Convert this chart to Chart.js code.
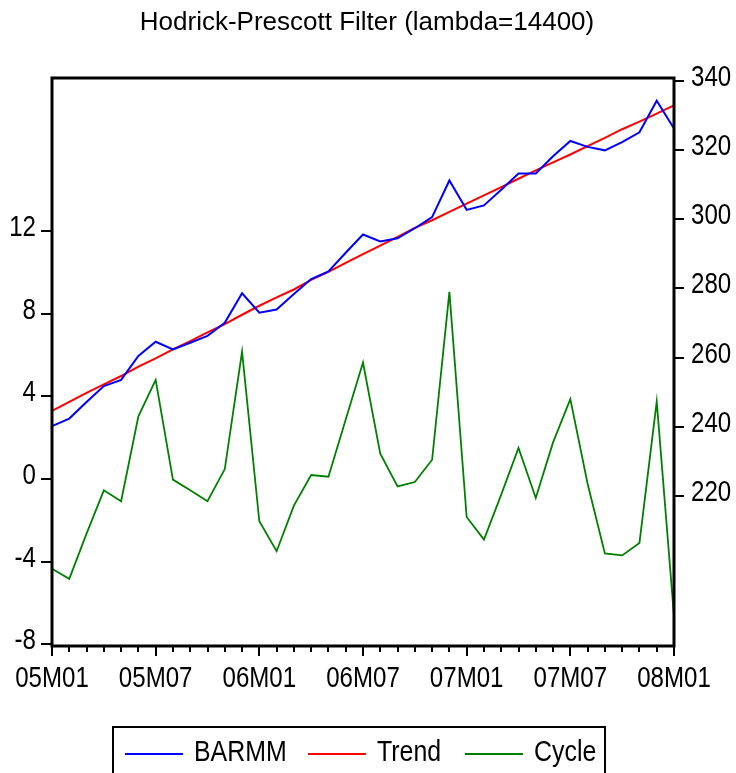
<!DOCTYPE html>
<html>
<head>
<meta charset="utf-8">
<script src="https://cdn.jsdelivr.net/npm/chart.js@4/dist/chart.umd.min.js"></script>
<style>
  html, body { margin: 0; padding: 0; background: #fff; }
</style>
</head>
<body>
<canvas id="hp" width="736" height="773"></canvas>
<script>
// monthly periods 2005M01 .. 2008M01
const periods = [
    '05M01', '05M02', '05M03', '05M04', '05M05', '05M06', '05M07', '05M08', '05M09', '05M10', '05M11', '05M12',
    '06M01', '06M02', '06M03', '06M04', '06M05', '06M06', '06M07', '06M08', '06M09', '06M10', '06M11', '06M12',
    '07M01', '07M02', '07M03', '07M04', '07M05', '07M06', '07M07', '07M08', '07M09', '07M10', '07M11', '07M12',
    '08M01'
];

// right axis
const barmm = [
    240.2, 242.4, 247.2, 251.8, 253.6, 260.5, 264.6, 262.4, 264.3, 266.3, 270.1, 278.6,
    273.0, 273.9, 278.4, 282.7, 284.9, 290.3, 295.6, 293.6, 294.5, 297.4, 300.6, 311.2,
    302.7, 304.0, 308.5, 313.2, 313.2, 318.2, 322.6, 320.9, 319.9, 322.3, 325.1, 334.2,
    326.2
];
const trend = [
    244.6, 247.2, 249.8, 252.3, 254.7, 257.4, 259.8, 262.4, 264.8, 267.3, 269.7, 272.4,
    275.0, 277.4, 279.7, 282.5, 284.8, 287.4, 289.9, 292.4, 294.9, 297.5, 299.7, 302.1,
    304.5, 306.9, 309.3, 311.7, 314.1, 316.4, 318.7, 321.1, 323.5, 326.0, 328.2, 330.5,
    332.9
];

// left axis
const cycle = [
    -4.35, -4.84, -2.65, -0.55, -1.08, 3.03, 4.80, -0.03, -0.55, -1.08, 0.48, 6.17,
    -2.05, -3.50, -1.29, 0.19, 0.11, 2.88, 5.64, 1.22, -0.36, -0.15, 0.93, 9.06,
    -1.84, -2.94, -0.76, 1.50, -0.92, 1.77, 3.87, -0.23, -3.61, -3.70, -3.10, 3.75,
    -6.65
];

const cycleTicks = [-8, -4, 0, 4, 8, 12];
const levelTicks = [220, 240, 260, 280, 300, 320, 340];

const FONT = "'Liberation Sans', Arial, sans-serif";
const SQUEEZE = 0.83; // EViews draws its axis text narrow

function narrowText(ctx, text, x, y, align) {
    ctx.save();
    ctx.translate(x, y);
    ctx.scale(SQUEEZE, 1);
    ctx.textAlign = align;
    ctx.fillText(text, 0, 0);
    ctx.restore();
}

// frame, tick marks, tick labels, title and boxed legend
const evFrame = {
    id: 'evFrame',
    afterDraw(chart) {
        const ctx = chart.ctx;
        const a = chart.chartArea;
        const yl = chart.scales.y;
        const yr = chart.scales.y2;
        const x = chart.scales.x;

        ctx.save();
        ctx.strokeStyle = '#000';
        ctx.fillStyle = '#000';
        ctx.lineWidth = 3;
        ctx.strokeRect(a.left, a.top, a.right - a.left, a.bottom - a.top);

        ctx.lineWidth = 2;
        ctx.beginPath();
        cycleTicks.forEach(v => {
            const py = Math.round(yl.getPixelForValue(v));
            ctx.moveTo(a.left - 11, py);
            ctx.lineTo(a.left, py);
        });
        levelTicks.forEach(v => {
            const py = Math.round(yr.getPixelForValue(v));
            ctx.moveTo(a.right, py);
            ctx.lineTo(a.right + 10, py);
        });
        periods.forEach((p, i) => {
            const px = Math.round(x.getPixelForValue(i));
            ctx.moveTo(px, a.bottom);
            ctx.lineTo(px, a.bottom + (i % 6 === 0 ? 10 : 6));
        });
        ctx.stroke();

        ctx.font = '29px ' + FONT;
        ctx.textBaseline = 'middle';
        cycleTicks.forEach(v => {
            narrowText(ctx, String(v), 36, yl.getPixelForValue(v) - 3, 'right');
        });
        levelTicks.forEach(v => {
            narrowText(ctx, String(v), 691, yr.getPixelForValue(v) - 3, 'left');
        });
        periods.forEach((p, i) => {
            if (i % 6 === 0) narrowText(ctx, p, x.getPixelForValue(i), 679, 'center');
        });

        // title
        ctx.font = '26px ' + FONT;
        ctx.textAlign = 'center';
        ctx.fillText('Hodrick-Prescott Filter (lambda=14400)', 367, 23);

        // legend box
        ctx.lineWidth = 2;
        ctx.strokeRect(113, 727, 492, 60);
        ctx.font = '30px ' + FONT;
        const slots = [125, 308, 465];
        chart.data.datasets.forEach((ds, i) => {
            const lx = slots[i];
            ctx.strokeStyle = ds.borderColor;
            ctx.lineWidth = 2;
            ctx.beginPath();
            ctx.moveTo(lx, 754);
            ctx.lineTo(lx + 58, 754);
            ctx.stroke();
            narrowText(ctx, ds.label, lx + 69, 753, 'left');
        });
        ctx.restore();
    }
};

new Chart(document.getElementById('hp'), {
    type: 'line',
    data: {
        labels: periods,
        datasets: [
            { label: 'BARMM', data: barmm, yAxisID: 'y2', borderColor: '#0000ff', borderWidth: 2 },
            { label: 'Trend', data: trend, yAxisID: 'y2', borderColor: '#ff0000', borderWidth: 2 },
            { label: 'Cycle', data: cycle, yAxisID: 'y', borderColor: '#008000', borderWidth: 1.8 }
        ]
    },
    options: {
        responsive: false,
        devicePixelRatio: 1,
        animation: false,
        elements: { point: { radius: 0 }, line: { tension: 0 } },
        layout: { padding: { top: 78, left: 0, right: 0, bottom: 0 } },
        plugins: {
            legend: { display: false },
            tooltip: { enabled: false }
        },
        scales: {
            x: {
                grid: { display: false, drawTicks: false },
                border: { display: false },
                ticks: { display: false },
                afterFit(s) { s.height = 127; }
            },
            y: {
                position: 'left',
                min: -8.09,
                max: 19.42,
                grid: { display: false, drawTicks: false },
                border: { display: false },
                ticks: { display: false },
                afterFit(s) { s.width = 52; }
            },
            y2: {
                position: 'right',
                min: 176.7,
                max: 340.8,
                grid: { display: false, drawTicks: false },
                border: { display: false },
                ticks: { display: false },
                afterFit(s) { s.width = 62; }
            }
        }
    },
    plugins: [evFrame]
});
</script>
</body>
</html>
